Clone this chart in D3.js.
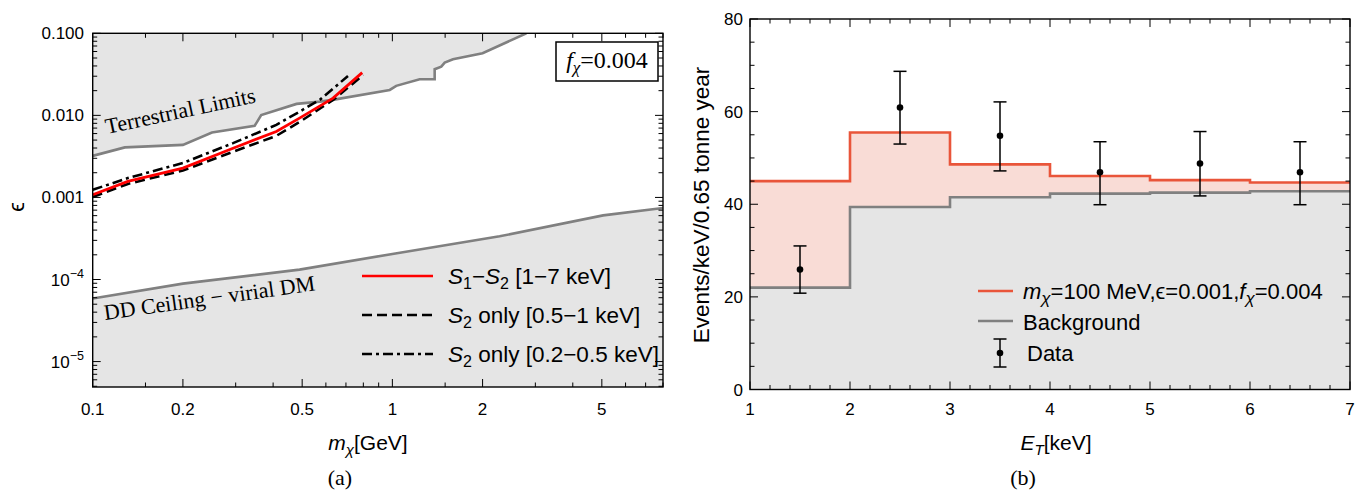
<!DOCTYPE html>
<html><head><meta charset="utf-8">
<script src="https://cdn.jsdelivr.net/npm/d3@7"></script>
<style>
html,body{margin:0;padding:0;background:#fff;}
svg{display:block;}
text{font-family:"Liberation Sans",Arial,sans-serif;fill:#000;}
.serif{font-family:"Liberation Serif","Times New Roman",serif;}
</style></head>
<body>
<svg id="c" width="1365" height="493"></svg>
<script>
// ---------- Panel (a) data ----------
const terrMass = [0.1, 0.128, 0.2, 0.25, 0.347, 0.365, 0.479, 0.573, 0.632, 0.98, 1.03, 1.233, 1.384, 1.384, 1.456, 1.495, 1.593, 2.0, 2.8];
const terrEps  = [0.00321, 0.00407, 0.00437, 0.00618, 0.00745, 0.0101, 0.0138, 0.0147, 0.01545, 0.0204, 0.0229, 0.0276, 0.0276, 0.0365, 0.0393, 0.044, 0.0483, 0.0571, 0.1];
const ddMass = [0.1, 0.2, 0.49, 1.0, 2.28, 5.05, 8];
const ddEps  = [5.86e-5, 8.9e-5, 1.32e-4, 2.05e-4, 3.36e-4, 6.04e-4, 7.43e-4];
const s1s2Mass = [0.1, 0.131, 0.2, 0.294, 0.41, 0.49, 0.634, 0.793];
const s1s2Eps  = [0.00108, 0.00157, 0.00228, 0.00398, 0.00636, 0.00925, 0.0162, 0.0332];
const s2aMass = [0.1, 0.131, 0.2, 0.294, 0.41, 0.49, 0.634, 0.80];
const s2aEps  = [0.00101, 0.00146, 0.00213, 0.0036, 0.00563, 0.0083, 0.0154, 0.0311];
const s2bMass = [0.1, 0.131, 0.2, 0.294, 0.41, 0.49, 0.573, 0.711];
const s2bEps  = [0.00124, 0.00172, 0.00263, 0.00459, 0.00766, 0.0111, 0.0155, 0.0302];
const xTicksA = [0.1, 0.2, 0.5, 1, 2, 5];
const xMinorA = [0.15, 0.3, 0.4, 0.6, 0.7, 0.8, 0.9, 1.5, 3, 4, 6, 7, 8];
const yTicksA = [0.1, 0.01, 0.001, 1e-4, 1e-5];
const yTickLabelsA = ["0.100", "0.010", "0.001", "10|−4", "10|−5"];

// ---------- Panel (b) data ----------
const binEdges = [1, 2, 3, 4, 5, 6, 7];
const signalBg = [45.0, 55.5, 48.6, 46.1, 45.2, 44.7];
const background = [22.0, 39.4, 41.5, 42.3, 42.5, 42.8];
const dataE  = [1.5, 2.5, 3.5, 4.5, 5.5, 6.5];
const dataY  = [25.9, 60.9, 54.8, 46.9, 48.8, 46.9];
const dataLo = [20.8, 53.0, 47.2, 39.9, 41.8, 39.9];
const dataHi = [31.0, 68.7, 62.1, 53.5, 55.7, 53.5];
const xTicksB = [1, 2, 3, 4, 5, 6, 7];
const yTicksB = [0, 20, 40, 60, 80];

const svg = d3.select("#c");
const GREY_FILL = "#e5e5e5", GREY_LINE = "#808080";
const DASH = "10,5", DASHDOT = "10,4,3,4";
const TICKFONT = 17;

// ================= Panel (a) =================
const xA = d3.scaleLog().domain([0.1, 8]).range([92.7, 663]);
const yA = d3.scaleLog().domain([4.9e-6, 0.1]).range([387, 33.3]);
const gA = svg.append("g");
gA.append("clipPath").attr("id","clipA").append("rect")
  .attr("x", xA.range()[0]).attr("y", yA.range()[1])
  .attr("width", xA.range()[1]-xA.range()[0]).attr("height", yA.range()[0]-yA.range()[1]);
const plotA = gA.append("g").attr("clip-path","url(#clipA)");

const lineA = d3.line().x(d=>xA(d[0])).y(d=>yA(d[1]));
const terrPts = terrMass.map((m,i)=>[m, terrEps[i]]);
const terrPoly = terrPts.concat([[8,0.1],[8,0.2],[0.1,0.2]]);
plotA.append("path").attr("d", lineA(terrPoly)+"Z").attr("fill", GREY_FILL);
const ddPts = ddMass.map((m,i)=>[m, ddEps[i]]);
const ddPoly = ddPts.concat([[8,1e-6],[0.1,1e-6]]);
plotA.append("path").attr("d", lineA(ddPoly)+"Z").attr("fill", GREY_FILL);
plotA.append("path").attr("d", lineA(terrPts)).attr("fill","none").attr("stroke",GREY_LINE).attr("stroke-width",2.6);
plotA.append("path").attr("d", lineA(ddPts)).attr("fill","none").attr("stroke",GREY_LINE).attr("stroke-width",2.6);

plotA.append("text").attr("class","serif").attr("font-size",22).attr("fill","#8a8a8a")
  .attr("transform","translate(107,134) rotate(-12)").text("Terrestrial Limits");
plotA.append("text").attr("class","serif").attr("font-size",22).attr("fill","#8a8a8a")
  .attr("transform","translate(105,320) rotate(-8)").text("DD Ceiling − virial DM");

plotA.append("path").attr("d", lineA(s2aMass.map((m,i)=>[m,s2aEps[i]]))).attr("fill","none")
  .attr("stroke","#000").attr("stroke-width",2.6).attr("stroke-dasharray",DASH);
plotA.append("path").attr("d", lineA(s2bMass.map((m,i)=>[m,s2bEps[i]]))).attr("fill","none")
  .attr("stroke","#000").attr("stroke-width",2.6).attr("stroke-dasharray",DASHDOT);
plotA.append("path").attr("d", lineA(s1s2Mass.map((m,i)=>[m,s1s2Eps[i]]))).attr("fill","none")
  .attr("stroke","#ff0000").attr("stroke-width",2.8);

// f_chi box
const fb = gA.append("g");
fb.append("rect").attr("x",556).attr("y",42).attr("width",102).attr("height",39)
  .attr("fill","#fff").attr("stroke","#000").attr("stroke-width",1.5);
const ft = fb.append("text").attr("class","serif").attr("x",607).attr("y",68).attr("text-anchor","middle").attr("font-size",24);
ft.append("tspan").attr("font-style","italic").text("f");
ft.append("tspan").attr("font-style","italic").attr("font-size",17).attr("dy",5).text("χ");
ft.append("tspan").attr("dy",-5).text("=0.004");

// legend (a)
const legA = [
  {y:276, stroke:"#ff0000", dash:null, parts:[["S","i",0],["1","",1],["−","",0],["S","i",0],["2","",1],[" [1−7 keV]","",0]]},
  {y:315, stroke:"#000", dash:DASH, parts:[["S","i",0],["2","",1],[" only [0.5−1 keV]","",0]]},
  {y:354, stroke:"#000", dash:DASHDOT, parts:[["S","i",0],["2","",1],[" only [0.2−0.5 keV]","",0]]}
];
legA.forEach(l=>{
  gA.append("line").attr("x1",362).attr("x2",433).attr("y1",l.y).attr("y2",l.y)
    .attr("stroke",l.stroke).attr("stroke-width",2.6).attr("stroke-dasharray",l.dash);
  const t = gA.append("text").attr("x",448).attr("y",l.y+8).attr("font-size",22.5);
  let sub=false;
  l.parts.forEach(p=>{
    const ts = t.append("tspan").text(p[0]);
    if(p[1]==="i") ts.attr("font-style","italic");
    if(p[2]===1){ ts.attr("font-size",16).attr("dy",sub?0:5); sub=true; }
    else { if(sub){ ts.attr("dy",-5); sub=false; } }
  });
});

function addTicks(g, x, y, xMaj, xMin, yMaj, yMinVals){
  const [x0,x1]=x.range(), [y0,y1]=y.range();
  const tk = g.append("g").attr("stroke","#000").attr("stroke-width",1);
  xMaj.forEach(v=>{const px=x(v);
    tk.append("line").attr("x1",px).attr("x2",px).attr("y1",y0).attr("y2",y0-8);
    tk.append("line").attr("x1",px).attr("x2",px).attr("y1",y1).attr("y2",y1+8);});
  xMin.forEach(v=>{const px=x(v);
    tk.append("line").attr("x1",px).attr("x2",px).attr("y1",y0).attr("y2",y0-4.5);
    tk.append("line").attr("x1",px).attr("x2",px).attr("y1",y1).attr("y2",y1+4.5);});
  yMaj.forEach(v=>{const py=y(v);
    tk.append("line").attr("x1",x0).attr("x2",x0+8).attr("y1",py).attr("y2",py);
    tk.append("line").attr("x1",x1).attr("x2",x1-8).attr("y1",py).attr("y2",py);});
  yMinVals.forEach(v=>{const py=y(v);
    tk.append("line").attr("x1",x0).attr("x2",x0+4.5).attr("y1",py).attr("y2",py);
    tk.append("line").attr("x1",x1).attr("x2",x1-4.5).attr("y1",py).attr("y2",py);});
}
const yMinorA = [];
[1e-6,1e-5,1e-4,1e-3,1e-2].forEach(d=>{for(let k=2;k<=9;k++){const v=d*k; if(v>=4.9e-6 && v<0.1) yMinorA.push(v);}});
addTicks(gA, xA, yA, xTicksA, xMinorA, yTicksA, yMinorA);
gA.append("rect").attr("x",xA.range()[0]).attr("y",yA.range()[1])
  .attr("width",xA.range()[1]-xA.range()[0]).attr("height",yA.range()[0]-yA.range()[1])
  .attr("fill","none").attr("stroke","#000").attr("stroke-width",1.4);

xTicksA.forEach(v=>{
  gA.append("text").attr("x",xA(v)).attr("y",415).attr("text-anchor","middle").attr("font-size",TICKFONT).text(String(v));
});
yTicksA.forEach((v,i)=>{
  const lab = yTickLabelsA[i];
  const t = gA.append("text").attr("x",84).attr("y",yA(v)+6).attr("text-anchor","end").attr("font-size",TICKFONT);
  if(lab.includes("|")){
    const [b,e]=lab.split("|");
    t.append("tspan").text(b);
    t.append("tspan").attr("font-size",12.5).attr("dy",-8).text(e);
  } else t.text(lab);
});
const xlA = gA.append("text").attr("x",368).attr("y",450).attr("text-anchor","middle").attr("font-size",21);
xlA.append("tspan").attr("font-style","italic").text("m");
xlA.append("tspan").attr("font-style","italic").attr("font-size",15).attr("dy",5).text("χ");
xlA.append("tspan").attr("dy",-5).text("[GeV]");
gA.append("text").attr("transform","translate(24,207) rotate(-90)").attr("text-anchor","middle").attr("font-size",22).text("ϵ");
gA.append("text").attr("class","serif").attr("x",340).attr("y",485).attr("text-anchor","middle").attr("font-size",22).text("(a)");

// ================= Panel (b) =================
const xB = d3.scaleLinear().domain([1,7]).range([750,1350]);
const yB = d3.scaleLinear().domain([0,80]).range([389.5,19]);
const gB = svg.append("g");
const stepPts = arr => arr.map((v,i)=>[binEdges[i], v]).concat([[binEdges[binEdges.length-1], arr[arr.length-1]]]);
const stepLine = d3.line().x(d=>xB(d[0])).y(d=>yB(d[1])).curve(d3.curveStepAfter);
const stepArea = () => d3.area().x(d=>xB(d[0])).y0(d=>yB(d[2])).y1(d=>yB(d[1])).curve(d3.curveStepAfter);
const sigPts = stepPts(signalBg), bgPts = stepPts(background);
const bandPts = sigPts.map((p,i)=>[p[0], p[1], bgPts[i][1]]);
const basePts = bgPts.map(p=>[p[0], p[1], 0]);
gB.append("path").attr("d", stepArea()(basePts)).attr("fill", GREY_FILL);
gB.append("path").attr("d", stepArea()(bandPts)).attr("fill", "#f9dcd6");
gB.append("path").attr("d", stepLine(bgPts)).attr("fill","none").attr("stroke",GREY_LINE).attr("stroke-width",2.6);
gB.append("path").attr("d", stepLine(sigPts)).attr("fill","none").attr("stroke","#e9553a").attr("stroke-width",2.6);

function errBar(g, cx, cy, lo, hi){
  g.append("line").attr("x1",cx).attr("x2",cx).attr("y1",lo).attr("y2",hi).attr("stroke","#000").attr("stroke-width",1.5);
  g.append("line").attr("x1",cx-6.5).attr("x2",cx+6.5).attr("y1",lo).attr("y2",lo).attr("stroke","#000").attr("stroke-width",1.5);
  g.append("line").attr("x1",cx-6.5).attr("x2",cx+6.5).attr("y1",hi).attr("y2",hi).attr("stroke","#000").attr("stroke-width",1.5);
  g.append("circle").attr("cx",cx).attr("cy",cy).attr("r",3.3).attr("fill","#000");
}
dataE.forEach((e,i)=> errBar(gB, xB(e), yB(dataY[i]), yB(dataLo[i]), yB(dataHi[i])));

const xMinorB = [], yMinorB = [];
for(let v=1; v<=7.0001; v+=0.2){ const r=Math.round(v*10)/10; if(Math.abs(r-Math.round(r))>1e-6) xMinorB.push(r); }
for(let v=0; v<=80; v+=5){ if(v%20!==0) yMinorB.push(v); }
addTicks(gB, xB, yB, xTicksB, xMinorB, yTicksB, yMinorB);
gB.append("rect").attr("x",750).attr("y",19).attr("width",600).attr("height",370.5)
  .attr("fill","none").attr("stroke","#000").attr("stroke-width",1.4);
xTicksB.forEach(v=> gB.append("text").attr("x",xB(v)).attr("y",415).attr("text-anchor","middle").attr("font-size",TICKFONT).text(v));
yTicksB.forEach(v=> gB.append("text").attr("x",743).attr("y",yB(v)+6).attr("text-anchor","end").attr("font-size",TICKFONT).text(v));

// legend (b)
gB.append("line").attr("x1",978).attr("x2",1013).attr("y1",291).attr("y2",291).attr("stroke","#e9553a").attr("stroke-width",2.6);
gB.append("line").attr("x1",978).attr("x2",1013).attr("y1",321).attr("y2",321).attr("stroke",GREY_LINE).attr("stroke-width",2.6);
errBar(gB, 1000, 353, 367, 339);
const l1 = gB.append("text").attr("x",1023).attr("y",299).attr("font-size",22);
l1.append("tspan").attr("font-style","italic").text("m");
l1.append("tspan").attr("font-style","italic").attr("font-size",17).attr("dy",5).text("χ");
l1.append("tspan").attr("dy",-5).text("=100 MeV,ϵ=0.001,");
l1.append("tspan").attr("font-style","italic").text("f");
l1.append("tspan").attr("font-style","italic").attr("font-size",17).attr("dy",5).text("χ");
l1.append("tspan").attr("dy",-5).text("=0.004");
gB.append("text").attr("x",1023).attr("y",330).attr("font-size",22).text("Background");
gB.append("text").attr("x",1027).attr("y",361).attr("font-size",22).text("Data");

const xlB = gB.append("text").attr("x",1056).attr("y",450).attr("text-anchor","middle").attr("font-size",21);
xlB.append("tspan").attr("font-style","italic").text("E");
xlB.append("tspan").attr("font-style","italic").attr("font-size",15).attr("dy",5).text("T");
xlB.append("tspan").attr("dy",-5).text("[keV]");
gB.append("text").attr("transform","translate(709,205) rotate(-90)").attr("text-anchor","middle").attr("font-size",22.5).text("Events/keV/0.65 tonne year");
gB.append("text").attr("class","serif").attr("x",1023).attr("y",485).attr("text-anchor","middle").attr("font-size",22).text("(b)");
</script>
</body></html>
